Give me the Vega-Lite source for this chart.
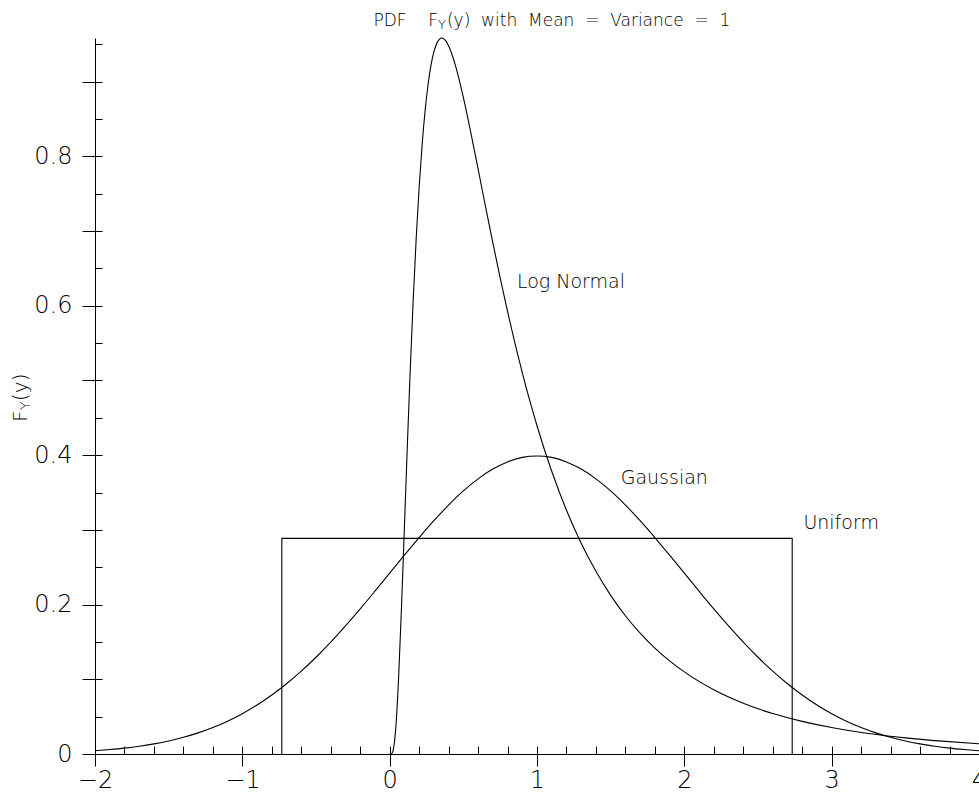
{
  "$schema": "https://vega.github.io/schema/vega-lite/v6.json",
  "width": 884,
  "height": 716,
  "autosize": {"type": "none"},
  "padding": {"left": 95, "top": 38, "right": 0, "bottom": 43},
  "background": "white",
  "config": {
    "view": {"stroke": null},
    "font": "DejaVu Sans",
    "axis": {"grid": false, "title": null, "labelColor": "black", "tickColor": "black", "domainColor": "black", "tickWidth": 1, "domainWidth": 1, "labelFont": "DejaVu Sans", "labelFontWeight": 200}
  },
  "datasets": {
    "curves": [
      {"dist": "Gaussian", "x": -2, "y": 0.0044}, {"dist": "Gaussian", "x": -1.9, "y": 0.006}, {"dist": "Gaussian", "x": -1.8, "y": 0.0079}, {"dist": "Gaussian", "x": -1.7, "y": 0.0104}, {"dist": "Gaussian", "x": -1.6, "y": 0.0136}, {"dist": "Gaussian", "x": -1.5, "y": 0.0175}, {"dist": "Gaussian", "x": -1.4, "y": 0.0224}, {"dist": "Gaussian", "x": -1.3, "y": 0.0283}, {"dist": "Gaussian", "x": -1.2, "y": 0.0355}, {"dist": "Gaussian", "x": -1.1, "y": 0.044}, {"dist": "Gaussian", "x": -1, "y": 0.054}, {"dist": "Gaussian", "x": -0.9, "y": 0.0656}, {"dist": "Gaussian", "x": -0.8, "y": 0.079}, {"dist": "Gaussian", "x": -0.7, "y": 0.094}, {"dist": "Gaussian", "x": -0.6, "y": 0.1109}, {"dist": "Gaussian", "x": -0.5, "y": 0.1295}, {"dist": "Gaussian", "x": -0.4, "y": 0.1497}, {"dist": "Gaussian", "x": -0.3, "y": 0.1714}, {"dist": "Gaussian", "x": -0.2, "y": 0.1942}, {"dist": "Gaussian", "x": -0.1, "y": 0.2179}, {"dist": "Gaussian", "x": 0, "y": 0.242}, {"dist": "Gaussian", "x": 0.1, "y": 0.2661}, {"dist": "Gaussian", "x": 0.2, "y": 0.2897}, {"dist": "Gaussian", "x": 0.3, "y": 0.3123}, {"dist": "Gaussian", "x": 0.4, "y": 0.3332}, {"dist": "Gaussian", "x": 0.5, "y": 0.3521}, {"dist": "Gaussian", "x": 0.6, "y": 0.3683}, {"dist": "Gaussian", "x": 0.7, "y": 0.3814}, {"dist": "Gaussian", "x": 0.8, "y": 0.391}, {"dist": "Gaussian", "x": 0.9, "y": 0.397}, {"dist": "Gaussian", "x": 1, "y": 0.3989}, {"dist": "Gaussian", "x": 1.1, "y": 0.397}, {"dist": "Gaussian", "x": 1.2, "y": 0.391}, {"dist": "Gaussian", "x": 1.3, "y": 0.3814}, {"dist": "Gaussian", "x": 1.4, "y": 0.3683}, {"dist": "Gaussian", "x": 1.5, "y": 0.3521}, {"dist": "Gaussian", "x": 1.6, "y": 0.3332}, {"dist": "Gaussian", "x": 1.7, "y": 0.3123}, {"dist": "Gaussian", "x": 1.8, "y": 0.2897}, {"dist": "Gaussian", "x": 1.9, "y": 0.2661}, {"dist": "Gaussian", "x": 2, "y": 0.242}, {"dist": "Gaussian", "x": 2.1, "y": 0.2179}, {"dist": "Gaussian", "x": 2.2, "y": 0.1942}, {"dist": "Gaussian", "x": 2.3, "y": 0.1714}, {"dist": "Gaussian", "x": 2.4, "y": 0.1497}, {"dist": "Gaussian", "x": 2.5, "y": 0.1295}, {"dist": "Gaussian", "x": 2.6, "y": 0.1109}, {"dist": "Gaussian", "x": 2.7, "y": 0.094}, {"dist": "Gaussian", "x": 2.8, "y": 0.079}, {"dist": "Gaussian", "x": 2.9, "y": 0.0656}, {"dist": "Gaussian", "x": 3, "y": 0.054}, {"dist": "Gaussian", "x": 3.1, "y": 0.044}, {"dist": "Gaussian", "x": 3.2, "y": 0.0355}, {"dist": "Gaussian", "x": 3.3, "y": 0.0283}, {"dist": "Gaussian", "x": 3.4, "y": 0.0224}, {"dist": "Gaussian", "x": 3.5, "y": 0.0175}, {"dist": "Gaussian", "x": 3.6, "y": 0.0136}, {"dist": "Gaussian", "x": 3.7, "y": 0.0104}, {"dist": "Gaussian", "x": 3.8, "y": 0.0079}, {"dist": "Gaussian", "x": 3.9, "y": 0.006}, {"dist": "Gaussian", "x": 4, "y": 0.0044},
      {"dist": "Log Normal", "x": 0, "y": 0}, {"dist": "Log Normal", "x": 0.01, "y": 0.0001}, {"dist": "Log Normal", "x": 0.02, "y": 0.0025}, {"dist": "Log Normal", "x": 0.04, "y": 0.0312}, {"dist": "Log Normal", "x": 0.06, "y": 0.0991}, {"dist": "Log Normal", "x": 0.08, "y": 0.1948}, {"dist": "Log Normal", "x": 0.1, "y": 0.3034}, {"dist": "Log Normal", "x": 0.12, "y": 0.4129}, {"dist": "Log Normal", "x": 0.14, "y": 0.516}, {"dist": "Log Normal", "x": 0.16, "y": 0.609}, {"dist": "Log Normal", "x": 0.18, "y": 0.6899}, {"dist": "Log Normal", "x": 0.2, "y": 0.7584}, {"dist": "Log Normal", "x": 0.22, "y": 0.8147}, {"dist": "Log Normal", "x": 0.24, "y": 0.86}, {"dist": "Log Normal", "x": 0.26, "y": 0.8952}, {"dist": "Log Normal", "x": 0.28, "y": 0.9215}, {"dist": "Log Normal", "x": 0.3, "y": 0.9399}, {"dist": "Log Normal", "x": 0.32, "y": 0.9515}, {"dist": "Log Normal", "x": 0.34, "y": 0.9573}, {"dist": "Log Normal", "x": 0.3536, "y": 0.9584}, {"dist": "Log Normal", "x": 0.36, "y": 0.9581}, {"dist": "Log Normal", "x": 0.38, "y": 0.9548}, {"dist": "Log Normal", "x": 0.4, "y": 0.9479}, {"dist": "Log Normal", "x": 0.45, "y": 0.919}, {"dist": "Log Normal", "x": 0.5, "y": 0.8788}, {"dist": "Log Normal", "x": 0.55, "y": 0.8325}, {"dist": "Log Normal", "x": 0.6, "y": 0.7832}, {"dist": "Log Normal", "x": 0.65, "y": 0.7334}, {"dist": "Log Normal", "x": 0.7, "y": 0.6845}, {"dist": "Log Normal", "x": 0.75, "y": 0.6373}, {"dist": "Log Normal", "x": 0.8, "y": 0.5924}, {"dist": "Log Normal", "x": 0.85, "y": 0.5501}, {"dist": "Log Normal", "x": 0.9, "y": 0.5105}, {"dist": "Log Normal", "x": 0.95, "y": 0.4736}, {"dist": "Log Normal", "x": 1, "y": 0.4394}, {"dist": "Log Normal", "x": 1.1, "y": 0.3784}, {"dist": "Log Normal", "x": 1.2, "y": 0.3263}, {"dist": "Log Normal", "x": 1.3, "y": 0.2821}, {"dist": "Log Normal", "x": 1.4, "y": 0.2445}, {"dist": "Log Normal", "x": 1.5, "y": 0.2124}, {"dist": "Log Normal", "x": 1.6, "y": 0.1851}, {"dist": "Log Normal", "x": 1.7, "y": 0.1618}, {"dist": "Log Normal", "x": 1.8, "y": 0.1418}, {"dist": "Log Normal", "x": 1.9, "y": 0.1247}, {"dist": "Log Normal", "x": 2, "y": 0.1099}, {"dist": "Log Normal", "x": 2.2, "y": 0.086}, {"dist": "Log Normal", "x": 2.4, "y": 0.068}, {"dist": "Log Normal", "x": 2.6, "y": 0.0542}, {"dist": "Log Normal", "x": 2.8, "y": 0.0437}, {"dist": "Log Normal", "x": 3, "y": 0.0354}, {"dist": "Log Normal", "x": 3.25, "y": 0.0275}, {"dist": "Log Normal", "x": 3.5, "y": 0.0216}, {"dist": "Log Normal", "x": 3.75, "y": 0.0172}, {"dist": "Log Normal", "x": 4, "y": 0.0137},
      {"dist": "Uniform", "i": 1, "x": -0.73205, "y": 0}, {"dist": "Uniform", "i": 2, "x": -0.73205, "y": 0.288675}, {"dist": "Uniform", "i": 3, "x": 2.73205, "y": 0.288675}, {"dist": "Uniform", "i": 4, "x": 2.73205, "y": 0}
    ],
    "notes": [
      {"part": "label", "text": "Log Normal", "x": 0.864, "y": 0.624},
      {"part": "label", "text": "Gaussian", "x": 1.568, "y": 0.362},
      {"part": "label", "text": "Uniform", "x": 2.808, "y": 0.301},
      {"part": "t1", "text": "PDF\u00a0\u00a0\u00a0\u00a0F", "x": 0.328, "y": 0.9746},
      {"part": "t2", "text": "Y", "x": 0.328, "y": 0.9746},
      {"part": "t3", "text": "(y)\u00a0\u00a0with\u00a0\u00a0Mean\u00a0\u00a0=\u00a0\u00a0Variance\u00a0\u00a0=\u00a0\u00a01", "x": 0.328, "y": 0.9746},
      {"part": "y1", "text": "F", "x": -2.4636, "y": 0.4444},
      {"part": "y2", "text": "Y", "x": -2.4636, "y": 0.4444},
      {"part": "y3", "text": "(y)", "x": -2.4636, "y": 0.4444}
    ]
  },
  "layer": [
    {
      "data": {"name": "curves"},
      "transform": [{"filter": "datum.dist !== 'Uniform'"}],
      "mark": {"type": "line", "color": "black", "strokeWidth": 1.1, "interpolate": "monotone"},
      "encoding": {
        "x": {"field": "x", "type": "quantitative", "scale": {"domain": [-2, 4], "nice": false, "zero": false},
          "axis": {"orient": "bottom", "values": [-2, -1, 0, 1, 2, 3, 4], "format": "d", "tickSize": 12, "domain": true, "labelFontSize": 24, "labelPadding": 2, "labelFlush": false, "labelOverlap": false}},
        "y": {"field": "y", "type": "quantitative", "scale": {"domain": [0, 0.9584], "nice": false},
          "axis": {"orient": "left", "values": [0, 0.1, 0.2, 0.3, 0.4, 0.5, 0.6, 0.7, 0.8, 0.9], "format": ".1~f", "tickSize": 13, "domain": true, "labelFontSize": 24, "labelPadding": 10, "labelFlush": false, "labelOverlap": false, "labelExpr": "round(datum.value * 10) % 2 === 0 ? datum.label : ''"}},
        "detail": {"field": "dist"}
      }
    },
    {
      "data": {"name": "curves"},
      "transform": [{"filter": "datum.dist === 'Uniform'"}],
      "mark": {"type": "line", "color": "black", "strokeWidth": 1.1},
      "encoding": {
        "x": {"field": "x", "type": "quantitative", "scale": {"domain": [-2, 4], "nice": false, "zero": false},
          "axis": {"orient": "bottom", "values": [-2, -1.8, -1.6, -1.4, -1.2, -1, -0.8, -0.6, -0.4, -0.2, 0, 0.2, 0.4, 0.6, 0.8, 1, 1.2, 1.4, 1.6, 1.8, 2, 2.2, 2.4, 2.6, 2.8, 3, 3.2, 3.4, 3.6, 3.8, 4], "tickSize": -8, "labels": false, "domain": false}},
        "y": {"field": "y", "type": "quantitative", "scale": {"domain": [0, 0.9584], "nice": false},
          "axis": {"orient": "left", "values": [0.05, 0.1, 0.15, 0.2, 0.25, 0.3, 0.35, 0.4, 0.45, 0.5, 0.55, 0.6, 0.65, 0.7, 0.75, 0.8, 0.85, 0.9, 0.95], "tickSize": -7, "labels": false, "domain": false}},
        "order": {"field": "i"}
      }
    },
    {
      "data": {"name": "notes"},
      "transform": [{"filter": "datum.part === 'label'"}],
      "mark": {"type": "text", "fontSize": 19, "fontWeight": 200, "align": "left", "baseline": "alphabetic", "color": "black", "font": "DejaVu Sans"},
      "encoding": {
        "x": {"field": "x", "type": "quantitative", "scale": {"domain": [-2, 4], "nice": false, "zero": false}, "axis": null},
        "y": {"field": "y", "type": "quantitative", "scale": {"domain": [0, 0.9584], "nice": false}, "axis": null},
        "text": {"field": "text"}
      }
    },
    {
      "data": {"name": "notes"},
      "transform": [{"filter": "datum.part === 't1'"}],
      "mark": {"type": "text", "fontSize": 17, "fontWeight": 200, "align": "right", "baseline": "alphabetic", "color": "black", "font": "DejaVu Sans"},
      "encoding": {
        "x": {"field": "x", "type": "quantitative", "scale": {"domain": [-2, 4], "nice": false, "zero": false}, "axis": null},
        "y": {"field": "y", "type": "quantitative", "scale": {"domain": [0, 0.9584], "nice": false}, "axis": null},
        "text": {"field": "text"}
      }
    },
    {
      "data": {"name": "notes"},
      "transform": [{"filter": "datum.part === 't2'"}],
      "mark": {"type": "text", "fontSize": 13, "fontWeight": 200, "align": "left", "baseline": "alphabetic", "dy": 3, "color": "black", "font": "DejaVu Sans"},
      "encoding": {
        "x": {"field": "x", "type": "quantitative", "scale": {"domain": [-2, 4], "nice": false, "zero": false}, "axis": null},
        "y": {"field": "y", "type": "quantitative", "scale": {"domain": [0, 0.9584], "nice": false}, "axis": null},
        "text": {"field": "text"}
      }
    },
    {
      "data": {"name": "notes"},
      "transform": [{"filter": "datum.part === 't3'"}],
      "mark": {"type": "text", "fontSize": 17, "fontWeight": 200, "align": "left", "baseline": "alphabetic", "dx": 9, "color": "black", "font": "DejaVu Sans"},
      "encoding": {
        "x": {"field": "x", "type": "quantitative", "scale": {"domain": [-2, 4], "nice": false, "zero": false}, "axis": null},
        "y": {"field": "y", "type": "quantitative", "scale": {"domain": [0, 0.9584], "nice": false}, "axis": null},
        "text": {"field": "text"}
      }
    },
    {
      "data": {"name": "notes"},
      "transform": [{"filter": "datum.part === 'y1'"}],
      "mark": {"type": "text", "fontSize": 20, "fontWeight": 200, "align": "left", "baseline": "alphabetic", "angle": 270, "color": "black", "font": "DejaVu Sans"},
      "encoding": {
        "x": {"field": "x", "type": "quantitative", "scale": {"domain": [-2, 4], "nice": false, "zero": false}, "axis": null},
        "y": {"field": "y", "type": "quantitative", "scale": {"domain": [0, 0.9584], "nice": false}, "axis": null},
        "text": {"field": "text"}
      }
    },
    {
      "data": {"name": "notes"},
      "transform": [{"filter": "datum.part === 'y2'"}],
      "mark": {"type": "text", "fontSize": 14, "fontWeight": 200, "align": "left", "baseline": "alphabetic", "angle": 270, "dx": 12, "dy": 3, "color": "black", "font": "DejaVu Sans"},
      "encoding": {
        "x": {"field": "x", "type": "quantitative", "scale": {"domain": [-2, 4], "nice": false, "zero": false}, "axis": null},
        "y": {"field": "y", "type": "quantitative", "scale": {"domain": [0, 0.9584], "nice": false}, "axis": null},
        "text": {"field": "text"}
      }
    },
    {
      "data": {"name": "notes"},
      "transform": [{"filter": "datum.part === 'y3'"}],
      "mark": {"type": "text", "fontSize": 20, "fontWeight": 200, "align": "left", "baseline": "alphabetic", "angle": 270, "dx": 21, "color": "black", "font": "DejaVu Sans"},
      "encoding": {
        "x": {"field": "x", "type": "quantitative", "scale": {"domain": [-2, 4], "nice": false, "zero": false}, "axis": null},
        "y": {"field": "y", "type": "quantitative", "scale": {"domain": [0, 0.9584], "nice": false}, "axis": null},
        "text": {"field": "text"}
      }
    }
  ],
  "resolve": {"axis": {"x": "independent", "y": "independent"}}
}
